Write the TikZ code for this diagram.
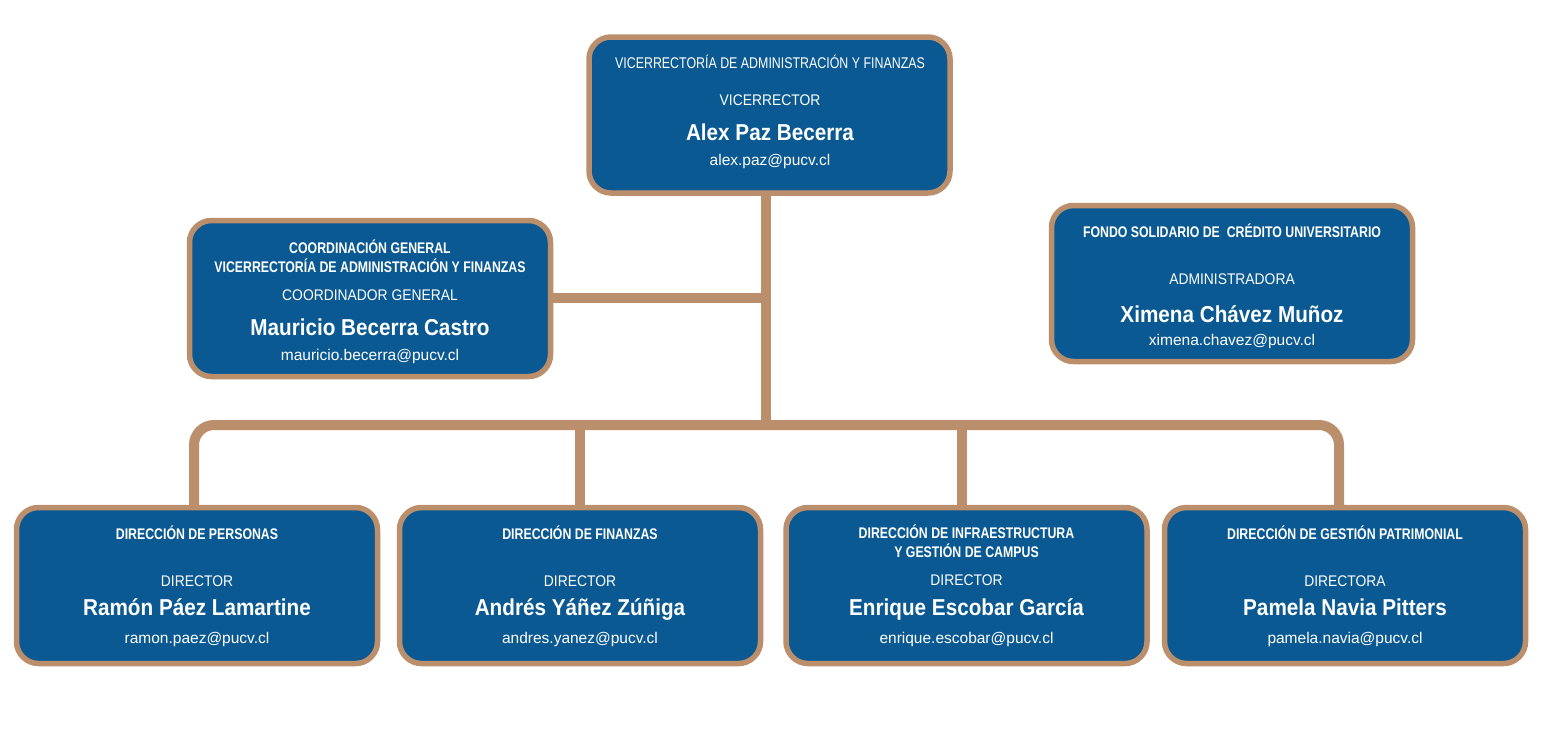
\documentclass[tikz,border=0pt]{standalone}
\usepackage{fontspec}
\usetikzlibrary{backgrounds}
\setmainfont{Liberation Sans}
\newfontfamily\condfont{Liberation Sans}[FakeStretch=0.8]
\newfontfamily\namefont{Liberation Sans}[FakeStretch=0.9]
\newfontfamily\rolefont{Liberation Sans}[FakeStretch=0.9]
\definecolor{boxblue}{RGB}{10,89,146}
\definecolor{linktan}{RGB}{187,142,108}
\newcommand{\drawunit}{\node[draw=linktan,fill=boxblue,line width=5.5pt,rounded corners=22pt,minimum width=361pt,minimum height=156pt,inner sep=0]}
\newcommand{\drawtitle}{\node[anchor=base,font=\condfont\fontsize{15.5}{19}\selectfont]}
\newcommand{\drawhead}{\node[anchor=base,align=center,font=\condfont\bfseries\fontsize{15.4}{19}\selectfont]}
\newcommand{\drawrole}{\node[anchor=base,font=\rolefont\fontsize{15.4}{19}\selectfont]}
\newcommand{\drawname}{\node[anchor=base,font=\namefont\bfseries\fontsize{23}{27}\selectfont]}
\newcommand{\drawmail}{\node[anchor=base,font=\fontsize{15.5}{19}\selectfont]}

\begin{document}
\begin{tikzpicture}[x=1pt, y=-1pt, every node/.style={text=white, inner sep=0},
  link/.style={draw=linktan, line width=10pt, rounded corners=20pt}]
\useasboundingbox (0,0) rectangle (1541,740);

%units
\drawunit (vraf) at (769.5,115) {};
\drawunit (coord) at (370,298.5) {};
\drawunit (fscu) at (1232,283.5) {};
\drawunit (dp) at (197,585.5) {};
\drawunit (df) at (580,585.5) {};
\drawunit (di) at (966.5,585.5) {};
\drawunit (dgp) at (1345,585.5) {};

%connectors
\coordinate (bus) at (766,425);
\coordinate (branch) at (766,298);
\coordinate (d1) at (194,425);
\coordinate (d2) at (580,425);
\coordinate (d3) at (962,425);
\coordinate (d4) at (1339,425);

\begin{scope}[on background layer]
\draw[link] (bus |- vraf.south) -- (bus);
\draw[link] (branch) -- (coord.east |- branch);
\draw[link] (d1 |- dp.north) -- (d1) -- (d4) -- (d4 |- dgp.north);
\draw[link] (d2) -- (d2 |- df.north);
\draw[link] (d3) -- (d3 |- di.north);
\end{scope}

%vicerrectoria
\drawtitle (vraf-t) at (770,68) {VICERRECTORÍA DE ADMINISTRACIÓN Y FINANZAS};
\drawrole (vraf-r) at (770,105) {VICERRECTOR};
\drawname (vraf-n) at (770,140) {Alex Paz Becerra};
\drawmail (vraf-m) at (770,165) {alex.paz@pucv.cl};

%coordinacion (two lines: base is the last line)
\drawhead (coord-t) at (370,272) {COORDINACIÓN GENERAL\\VICERRECTORÍA DE ADMINISTRACIÓN Y FINANZAS};
\drawrole (coord-r) at (370,300) {COORDINADOR GENERAL};
\drawname (coord-n) at (370,335) {Mauricio Becerra Castro};
\drawmail (coord-m) at (370,360) {mauricio.becerra@pucv.cl};

%fondo solidario
\drawhead (fscu-t) at (1232,237) {FONDO SOLIDARIO DE\ \ CRÉDITO UNIVERSITARIO};
\drawrole (fscu-r) at (1232,284) {ADMINISTRADORA};
\drawname (fscu-n) at (1232,322) {Ximena Chávez Muñoz};
\drawmail (fscu-m) at (1232,345) {ximena.chavez@pucv.cl};

%direcciones
\drawhead (dp-t) at (197,539) {DIRECCIÓN DE PERSONAS};
\drawrole (dp-r) at (197,586) {DIRECTOR};
\drawname (dp-n) at (197,615) {Ramón Páez Lamartine};
\drawmail (dp-m) at (197,643) {ramon.paez@pucv.cl};

\drawhead (df-t) at (580,539) {DIRECCIÓN DE FINANZAS};
\drawrole (df-r) at (580,586) {DIRECTOR};
\drawname (df-n) at (580,615) {Andrés Yáñez Zúñiga};
\drawmail (df-m) at (580,643) {andres.yanez@pucv.cl};

\drawhead (di-t) at (966.5,557) {DIRECCIÓN DE INFRAESTRUCTURA\\Y GESTIÓN DE CAMPUS};
\drawrole (di-r) at (966.5,585) {DIRECTOR};
\drawname (di-n) at (966.5,615) {Enrique Escobar García};
\drawmail (di-m) at (966.5,643) {enrique.escobar@pucv.cl};

\drawhead (dgp-t) at (1345,539) {DIRECCIÓN DE GESTIÓN PATRIMONIAL};
\drawrole (dgp-r) at (1345,586) {DIRECTORA};
\drawname (dgp-n) at (1345,615) {Pamela Navia Pitters};
\drawmail (dgp-m) at (1345,643) {pamela.navia@pucv.cl};
\end{tikzpicture}
\end{document}
